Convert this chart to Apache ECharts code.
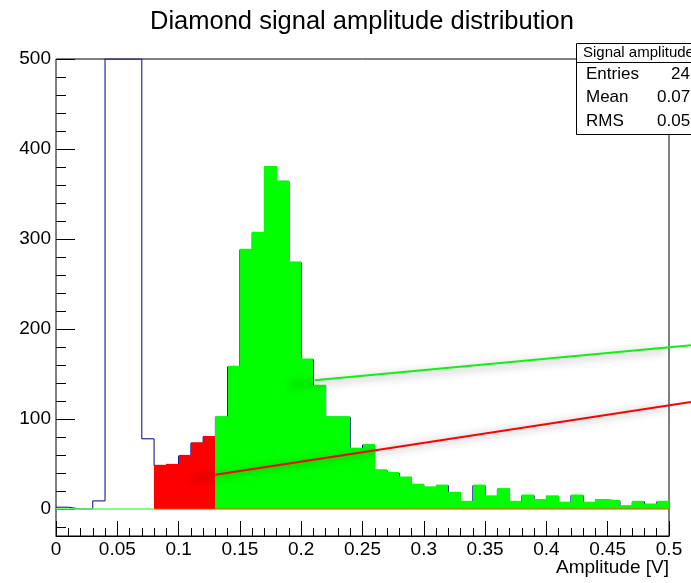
<!DOCTYPE html>
<html>
<head>
<meta charset="utf-8">
<script src="https://cdn.jsdelivr.net/npm/echarts@6/dist/echarts.min.js"></script>
<style>
html, body { margin: 0; padding: 0; background: #fff; }
#main { width: 691px; height: 583px; }
</style>
</head>
<body>
<div id="main"></div>
<script>
// histogram: 50 bins of 0.01 V from 0 to 0.5 (bins 0.04-0.07 go off scale)
var titleText = 'Diamond signal amplitude distribution';
var xTitle = 'Amplitude [V]';
var binWidth = 0.01;
var counts = [2, 0, 0, 9, 6300, 9400, 5155, 78, 48, 49,
              59, 73, 80, 102, 158, 288, 307, 380, 364, 274,
              166, 137, 102, 102, 67, 71, 43, 40, 35, 27,
              24, 26, 18, 8, 26, 14, 22, 8, 15, 10,
              14, 7, 15, 7, 10, 9, 3, 8, 5, 8];
var redRange = [0.08, 0.13];
var greenRange = [0.13, 0.5];
var yMin = -30, yMax = 500;
var yMajorTicks = [0, 100, 200, 300, 400, 500];
var yMinorTicks = [-20, 20, 40, 60, 80, 120, 140, 160, 180, 220, 240, 260, 280,
                   320, 340, 360, 380, 420, 440, 460, 480];
var greenFit = [[0.211, 143], [0.518, 182]];
var redFit = [[0.13, 38], [0.518, 119]];
var statsName = 'Signal amplitudes';
var statsLabels = ['Entries', 'Mean', 'RMS'];
var statsValues = ['24173', '0.0717', '0.0519'];

var font = 'Liberation Sans';

function inRange(lo, hi, r) {
    return lo >= r[0] - 1e-9 && hi <= r[1] + 1e-9;
}

// outline of the whole histogram (clipped at the top like ROOT does)
var outline = [];
for (var i = 0; i < counts.length; i++) {
    outline.push([i * binWidth, Math.min(counts[i], yMax)]);
}
outline.push([counts.length * binWidth, Math.min(counts[counts.length - 1], yMax)]);

// filled bins: [lo, hi, count, colour index]
var fillColors = ['#ff0000', '#00ff00'];
var fills = [];
for (var i = 0; i < counts.length; i++) {
    var lo = i * binWidth, hi = (i + 1) * binWidth;
    if (inRange(lo, hi, redRange)) fills.push([lo, hi, counts[i], 0]);
    else if (inRange(lo, hi, greenRange)) fills.push([lo, hi, counts[i], 1]);
}

function renderBin(params, api) {
    var p0 = api.coord([api.value(0), api.value(2)]);
    var p1 = api.coord([api.value(1), 0]);
    var x0 = Math.round(p0[0]), x1 = Math.round(p1[0]);
    return {
        type: 'rect',
        shape: {x: x0, y: p0[1] - 1, width: x1 - x0, height: p1[1] - p0[1] + 1},
        style: {fill: fillColors[api.value(3)], stroke: null, lineWidth: 0}
    };
}

// fit lines: [x0, y0, x1, y1, colour index]
var fitColors = ['#11f011', '#ff0000'];
var fits = [
    [greenFit[0][0], greenFit[0][1], greenFit[1][0], greenFit[1][1], 0],
    [redFit[0][0], redFit[0][1], redFit[1][0], redFit[1][1], 1]
];

function renderFit(params, api) {
    var a = api.coord([api.value(0), api.value(1)]);
    var b = api.coord([api.value(2), api.value(3)]);
    return {
        type: 'line',
        shape: {x1: a[0], y1: a[1], x2: b[0], y2: b[1]},
        style: {
            stroke: fitColors[api.value(4)], lineWidth: 2,
            shadowColor: 'rgba(0,0,0,0.45)', shadowBlur: 8,
            shadowOffsetX: -25, shadowOffsetY: 5
        }
    };
}

var graphics = [
    {type: 'rect', z: 100, shape: {x: 576.5, y: 43.5, width: 150, height: 91},
     style: {fill: '#fff', stroke: '#000', lineWidth: 1}},
    {type: 'line', z: 101, shape: {x1: 576.5, y1: 62.5, x2: 691, y2: 62.5},
     style: {stroke: '#000', lineWidth: 1}},
    {type: 'text', z: 101, x: 583, y: 52.5,
     style: {text: statsName, fontSize: 15, fontFamily: font, fill: '#000', verticalAlign: 'middle'}}
];
var rowY = [74, 97.7, 121.4];
var valueX = [671, 657, 657];
for (var k = 0; k < statsLabels.length; k++) {
    graphics.push({type: 'text', z: 101, x: 586, y: rowY[k],
        style: {text: statsLabels[k], fontSize: 17, fontFamily: font, fill: '#000', verticalAlign: 'middle'}});
    graphics.push({type: 'text', z: 101, x: valueX[k], y: rowY[k],
        style: {text: statsValues[k], fontSize: 17, fontFamily: font, fill: '#000', verticalAlign: 'middle'}});
}

var chart = echarts.init(document.getElementById('main'));
var option = {
    animation: false,
    backgroundColor: '#fff',
    title: {
        text: titleText,
        left: 150,
        top: 9,
        padding: 0,
        textStyle: {fontSize: 25.5, fontWeight: 'normal', fontFamily: font, color: '#000'}
    },
    grid: {
        left: 56, top: 59, width: 613, height: 477,
        show: true, borderColor: '#000', borderWidth: 1,
        outerBoundsMode: 'none'
    },
    xAxis: {
        type: 'value',
        min: 0, max: 0.5, interval: 0.05,
        axisLine: {show: true, onZero: false, lineStyle: {color: '#000'}},
        axisTick: {show: true, inside: true, length: 15, lineStyle: {color: '#000'}},
        minorTick: {show: true, splitNumber: 5, length: 8, lineStyle: {color: '#000'}},
        splitLine: {show: false},
        axisLabel: {
            color: '#000', fontSize: 19, fontFamily: font, margin: 4,
            formatter: function (v) { return String(Math.round(v * 100) / 100); }
        },
        name: xTitle,
        nameLocation: 'end',
        nameGap: 0,
        nameMoveOverlap: false,
        nameTextStyle: {color: '#000', fontSize: 19, fontFamily: font,
                        align: 'right', verticalAlign: 'top', padding: [22, 0, 0, 0]}
    },
    yAxis: [{
        type: 'value',
        min: yMin, max: yMax,
        axisLine: {show: false},
        axisTick: {show: true, inside: true, length: 19, customValues: yMajorTicks, lineStyle: {color: '#000'}},
        axisLabel: {color: '#000', fontSize: 19, fontFamily: font, margin: 5, customValues: yMajorTicks},
        splitLine: {show: false}
    }, {
        type: 'value',
        position: 'left',
        min: yMin, max: yMax,
        axisLine: {show: false},
        axisTick: {show: true, inside: true, length: 10, customValues: yMinorTicks, lineStyle: {color: '#000'}},
        axisLabel: {show: false},
        splitLine: {show: false}
    }],
    graphic: graphics,
    series: [
        {
            type: 'line', z: 2, step: 'end', symbol: 'none',
            data: outline,
            lineStyle: {color: '#000099', width: 1}
        },
        {
            type: 'custom', z: 3, clip: true,
            renderItem: renderBin,
            data: fills
        },
        {
            type: 'line', z: 4, symbol: 'none',
            data: [[0, 0], [redRange[0], 0]],
            lineStyle: {color: '#55ff55', width: 1.5}
        },
        {
            type: 'line', z: 4, symbol: 'none',
            data: [[redRange[0], 0], [greenRange[1], 0]],
            lineStyle: {color: '#ff4000', width: 1}
        },
        {
            type: 'custom', z: 5, clip: false,
            renderItem: renderFit,
            data: fits
        }
    ]
};
chart.setOption(option);
</script>
</body>
</html>
